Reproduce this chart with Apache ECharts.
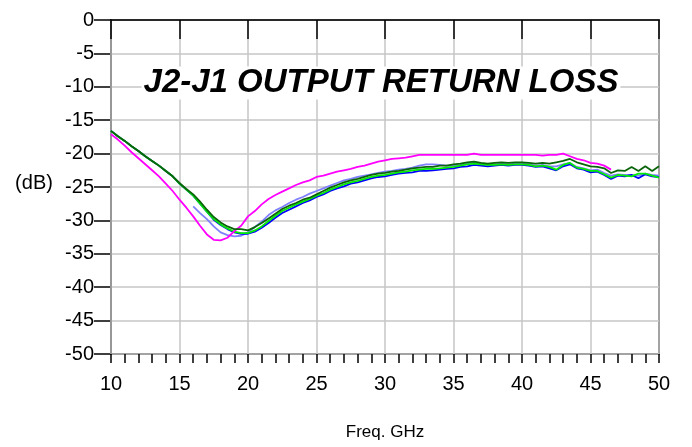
<!DOCTYPE html>
<html>
<head>
<meta charset="utf-8">
<style>
	html,body{margin:0;padding:0;background:#fff;}
	#chart{width:692px;height:447px;}
</style>
</head>
<body>
<div id="chart"></div>
<script src="https://cdn.jsdelivr.net/npm/echarts@6/dist/echarts.min.js"></script>
<script type="text/javascript">
	// frequency points, 0.5 GHz step
	var freq = [10,10.5,11,11.5,12,12.5,13,13.5,14,14.5,15,15.5,16,16.5,17,17.5,18,18.5,19,19.5,
		20,20.5,21,21.5,22,22.5,23,23.5,24,24.5,25,25.5,26,26.5,27,27.5,28,28.5,29,29.5,
		30,30.5,31,31.5,32,32.5,33,33.5,34,34.5,35,35.5,36,36.5,37,37.5,38,38.5,39,39.5,
		40,40.5,41,41.5,42,42.5,43,43.5,44,44.5,45,45.5,46,46.5,47,47.5,48,48.5,49,49.5,50];

	var darkGreen = [-16.6,-17.4,-18.1,-18.9,-19.6,-20.4,-21.1,-21.8,-22.6,-23.4,-24.4,-25.3,-26.1,-27.2,-28.4,-29.5,-30.3,-30.9,-31.3,-31.3,
		-31.5,-31.0,-30.4,-29.7,-29.0,-28.3,-27.8,-27.4,-26.9,-26.6,-26.1,-25.6,-25.1,-24.7,-24.3,-24.0,-23.8,-23.5,-23.2,-23.0,
		-22.9,-22.7,-22.6,-22.4,-22.2,-22.1,-22.0,-22.0,-21.8,-21.8,-21.6,-21.5,-21.3,-21.2,-21.4,-21.5,-21.4,-21.3,-21.4,-21.3,
		-21.3,-21.4,-21.5,-21.4,-21.5,-21.3,-21.1,-20.8,-21.3,-21.6,-21.9,-22.0,-22.2,-22.9,-22.5,-22.6,-22.0,-22.6,-21.9,-22.6,-21.9];

	var green = [-16.6,-17.4,-18.1,-18.9,-19.6,-20.4,-21.1,-21.8,-22.6,-23.4,-24.5,-25.4,-26.3,-27.5,-28.7,-29.8,-30.6,-31.2,-31.7,-31.9,
		-31.9,-31.5,-30.9,-30.1,-29.3,-28.6,-28.1,-27.6,-27.2,-26.8,-26.3,-25.9,-25.4,-25.0,-24.6,-24.3,-24.1,-23.8,-23.5,-23.3,
		-23.2,-23.0,-22.8,-22.7,-22.5,-22.4,-22.3,-22.3,-22.2,-22.1,-22.0,-21.8,-21.6,-21.5,-21.6,-21.7,-21.7,-21.6,-21.7,-21.6,
		-21.6,-21.7,-21.9,-21.8,-22.0,-22.4,-21.7,-21.4,-22.1,-22.3,-22.6,-22.6,-23.1,-23.6,-23.2,-23.3,-23.4,-23.0,-23.0,-23.3,-23.6];

	var blue = [-16.6,-17.4,-18.1,-18.9,-19.6,-20.4,-21.1,-21.8,-22.6,-23.4,-24.5,-25.4,-26.3,-27.5,-28.7,-29.9,-30.7,-31.3,-31.8,-32.0,
		-32.0,-31.7,-31.1,-30.4,-29.6,-28.9,-28.4,-27.9,-27.4,-27.0,-26.5,-26.1,-25.6,-25.2,-24.9,-24.5,-24.3,-24.0,-23.7,-23.5,
		-23.4,-23.2,-23.0,-22.9,-22.8,-22.6,-22.6,-22.5,-22.4,-22.3,-22.2,-22.0,-21.9,-21.7,-21.8,-21.9,-21.8,-21.7,-21.8,-21.7,
		-21.7,-21.8,-22.0,-21.9,-22.2,-22.5,-21.9,-21.6,-22.2,-22.4,-22.8,-22.7,-23.2,-23.8,-23.3,-23.4,-23.2,-23.7,-23.1,-23.4,-23.5];

	var lightBlue = [null,null,null,null,null,null,null,null,null,null,null,null,-27.9,-28.9,-29.8,-30.9,-31.8,-32.2,-32.4,-32.3,
		-31.8,-31.0,-30.2,-29.2,-28.5,-28.0,-27.4,-26.9,-26.5,-26.0,-25.6,-25.2,-24.8,-24.4,-24.0,-23.8,-23.5,-23.3,-23.1,-22.9,
		-22.7,-22.6,-22.4,-22.3,-22.1,-21.8,-21.6,-21.6,-21.7,-21.8,-21.8,-21.7,-21.5,-21.4,-21.5,-21.6,-21.6,-21.5,-21.6,-21.5,
		-21.5,-21.6,-21.8,-21.7,-21.9,-21.9,-21.6,-21.4,-22.0,-22.2,-22.5,-22.4,-22.9,-23.3,-23.1,-23.2,-23.2,-23.3,-23.0,-23.2,-23.3];

	var magenta = [-17.1,-17.9,-18.8,-19.8,-20.7,-21.6,-22.5,-23.4,-24.5,-25.6,-26.9,-28.1,-29.4,-30.8,-32.1,-32.9,-33.0,-32.6,-31.6,-30.8,
		-29.4,-28.6,-27.6,-26.8,-26.2,-25.7,-25.2,-24.7,-24.3,-24.0,-23.5,-23.3,-23.0,-22.7,-22.5,-22.3,-22.0,-21.8,-21.5,-21.2,
		-21.0,-20.8,-20.7,-20.6,-20.4,-20.2,-20.2,-20.2,-20.2,-20.2,-20.2,-20.2,-20.2,-20.0,-20.2,-20.2,-20.2,-20.2,-20.2,-20.2,
		-20.2,-20.2,-20.2,-20.3,-20.2,-20.2,-20.0,-20.4,-20.8,-21.0,-21.4,-21.5,-21.8,-22.4,null,null,null,null,null,null,null];

	var yTicks = [0,-5,-10,-15,-20,-25,-30,-35,-40,-45,-50];
	var xTicks = [10,15,20,25,30,35,40,45,50];

	function pairs(vals){
		var out = [];
		for (var i = 0; i < freq.length; i++) {
			out.push([freq[i], vals[i]]);
		}
		return out;
	}

	function line(name, color, vals){
		return {
			name: name,
			type: 'line',
			data: pairs(vals),
			showSymbol: false,
			connectNulls: false,
			animation: false,
			z: 3,
			lineStyle: {color: color, width: 1.8},
			itemStyle: {color: color}
		};
	}

	var font = 'Liberation Sans, Arial, sans-serif';

	var option = {
		backgroundColor: '#fff',
		animation: false,
		grid: {
			left: 111, right: 33, top: 20, bottom: 93,
			show: true,
			borderColor: '#000',
			borderWidth: 1.5
		},
		xAxis: [{
			type: 'value',
			min: xTicks[0],
			max: xTicks[xTicks.length - 1],
			interval: 5,
			position: 'bottom',
			z: 2,
			axisLine: {lineStyle: {color: '#000', width: 1.5}},
			axisTick: {length: 19, lineStyle: {color: '#000', width: 1.5}},
			axisLabel: {color: '#000', fontSize: 20, fontFamily: font, margin: 20},
			splitLine: {show: true, lineStyle: {color: '#c6c6c6', width: 1.5}}
		}, {
			// 1 GHz minor ticks
			type: 'value',
			min: xTicks[0],
			max: xTicks[xTicks.length - 1],
			interval: 1,
			position: 'bottom',
			offset: 0,
			z: 2,
			axisLine: {show: false},
			axisTick: {show: true, length: 9, lineStyle: {color: '#000', width: 1.5}},
			axisLabel: {show: false},
			splitLine: {show: false}
		}],
		yAxis: {
			type: 'value',
			min: yTicks[yTicks.length - 1],
			max: yTicks[0],
			interval: 5,
			axisLine: {show: true, lineStyle: {color: '#000', width: 1.5}},
			axisTick: {show: true, length: 17, lineStyle: {color: '#000', width: 1.5}},
			axisLabel: {color: '#000', fontSize: 20, fontFamily: font, margin: 17},
			splitLine: {show: true, lineStyle: {color: '#c6c6c6', width: 1.5}}
		},
		graphic: [
			{type: 'text', x: 381, y: 83, silent: true, z: 10,
				style: {text: 'J2-J1 OUTPUT RETURN LOSS', fill: '#000', font: 'italic bold 33px ' + font,
					textAlign: 'center', textVerticalAlign: 'middle',
					backgroundColor: '#fff', padding: [0, 2, 0, 2]}},
			{type: 'text', x: 34, y: 183, silent: true,
				style: {text: '(dB)', fill: '#000', font: '20px ' + font, textAlign: 'center', textVerticalAlign: 'middle'}},
			{type: 'text', x: 385, y: 432, silent: true,
				style: {text: 'Freq. GHz', fill: '#000', font: '17px ' + font, textAlign: 'center', textVerticalAlign: 'middle'}}
		],
		series: [
			line('S4', '#8080ff', lightBlue),
			line('S1', '#0000ff', blue),
			line('S3', '#00ee00', green),
			line('S5', '#ff00ff', magenta),
			line('S2', '#0a640a', darkGreen)
		]
	};

	var myChart = echarts.init(document.getElementById('chart'));
	myChart.setOption(option);
</script>
</body>
</html>
